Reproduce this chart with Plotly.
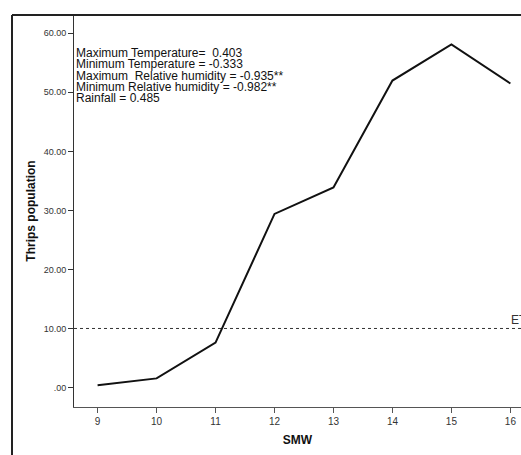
import plotly.graph_objects as go

smw = [9, 10, 11, 12, 13, 14, 15, 16]
thrips = [0.4, 1.55, 7.6, 29.4, 33.9, 52.0, 58.1, 51.5]
etl_value = 10
y_tick_vals = [0, 10, 20, 30, 40, 50, 60]
y_tick_text = [".00", "10.00", "20.00", "30.00", "40.00", "50.00", "60.00"]
corr_lines = [
    "Maximum Temperature=\u00a0 0.403",
    "Minimum Temperature = -0.333",
    "Maximum\u00a0 Relative humidity = -0.935**",
    "Minimum Relative humidity = -0.982**",
    "Rainfall = 0.485",
]

W, H = 521, 455
L, T, B, R = 74, 15, 48, 0
pw = W - L - R

fig = go.Figure()
fig.add_trace(go.Scatter(x=smw, y=thrips, mode="lines",
                         line=dict(color="#111111", width=2), showlegend=False,
                         hoverinfo="skip"))

# ETL line
fig.add_shape(type="line", xref="paper", yref="y", x0=0, x1=1, y0=etl_value, y1=etl_value,
              line=dict(color="#333333", width=1, dash="dot"), layer="below")
fig.add_annotation(x=16, y=etl_value, xref="x", yref="y", text="ETL", showarrow=False,
                   xanchor="left", yanchor="bottom", xshift=-1, yshift=-1,
                   font=dict(family="Arial, Liberation Sans", size=12, color="#333333"))

# correlation text
y0 = 56.65
for i, t in enumerate(corr_lines):
    fig.add_annotation(x=0, xref="paper", y=y0 - i * 1.92, yref="y", text=t,
                       showarrow=False, xanchor="left", yanchor="middle", xshift=0,
                       font=dict(family="Arial, Liberation Sans", size=12, color="#111111"))

# outer frame
fx = (12 - L) / pw
fig.add_shape(type="line", xref="paper", yref="paper", x0=fx, x1=1.05, y0=1, y1=1,
              line=dict(color="#222222", width=2))
fig.add_shape(type="line", xref="paper", yref="paper", x0=fx, x1=fx, y0=1, y1=-0.3,
              line=dict(color="#222222", width=2))

fig.update_layout(
    width=W, height=H,
    margin=dict(l=L, r=R, t=T, b=B, autoexpand=False),
    paper_bgcolor="white", plot_bgcolor="white",
    font=dict(family="Arial, Liberation Sans", color="#222222"),
    xaxis=dict(range=[8.6, 16.18], tickvals=smw, ticktext=[str(v) for v in smw],
               automargin=False,
               showgrid=False, zeroline=False, showline=True, linecolor="#555555", linewidth=1,
               ticks="outside", ticklen=5, tickcolor="#555555",
               tickfont=dict(size=10, color="#333333"),
               title=dict(text="<b>SMW</b>", font=dict(size=12, color="#111111"), standoff=9)),
    yaxis=dict(range=[-3.3, 63.1], tickvals=y_tick_vals, ticktext=y_tick_text,
               automargin=False,
               showgrid=False, zeroline=False, showline=True, linecolor="#333333", linewidth=1,
               ticks="outside", ticklen=5, tickcolor="#333333",
               tickfont=dict(size=9, color="#333333"),
               title=dict(text="<b>Thrips population</b>", font=dict(size=12, color="#111111"), standoff=5)),
)

fig.write_html("out.html", config={"displayModeBar": False},
               post_script="document.body.style.margin='0';")
